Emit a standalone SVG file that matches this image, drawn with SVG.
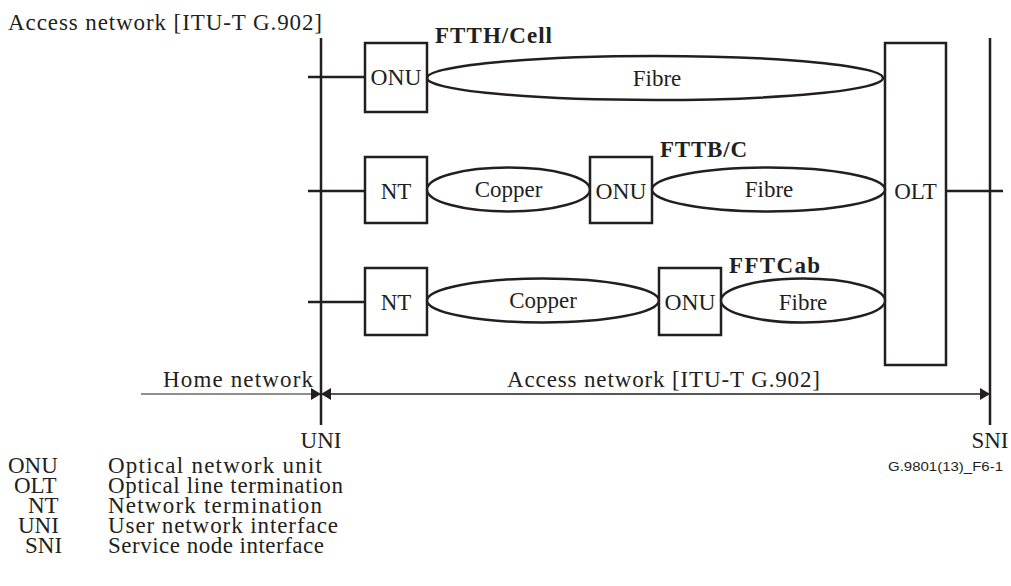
<svg xmlns="http://www.w3.org/2000/svg" width="1011" height="586" viewBox="0 0 1011 586">
<style>
text{font-family:"Liberation Serif","Times New Roman",serif;font-size:23px;fill:#231f20}
.b{font-weight:bold}
.c{text-anchor:middle}
.box{fill:#fff;stroke:#231f20;stroke-width:2.5}
.el{fill:#fff;stroke:#231f20;stroke-width:2.5}
.ln{stroke:#231f20;stroke-width:2.5;fill:none}
.thin{stroke:#231f20;stroke-width:1.2;fill:none}
.sans{font-family:"Liberation Sans",Arial,sans-serif;font-size:13.5px}
</style>
<defs>
<marker id="ah" viewBox="0 0 10 12" refX="10" refY="6" markerWidth="10" markerHeight="12" markerUnits="userSpaceOnUse" orient="auto">
<path d="M0,0 L10,6 L0,12 Z" fill="#231f20"/>
</marker>
</defs>
<text x="8" y="30" textLength="314" lengthAdjust="spacing">Access network [ITU-T G.902]</text>
<g id="connectors">
<line class="ln" x1="321" y1="38" x2="321" y2="425"/>
<line class="ln" x1="990" y1="38" x2="990" y2="425"/>
<line class="ln" x1="308" y1="77" x2="365" y2="77"/>
<line class="ln" x1="308" y1="191" x2="365" y2="191"/>
<line class="ln" x1="308" y1="302" x2="365" y2="302"/>
<line class="ln" x1="946" y1="191" x2="1003" y2="191"/>
<line class="thin" x1="141" y1="394" x2="321" y2="394" marker-end="url(#ah)"/>
<line class="thin" x1="990" y1="394" x2="321" y2="394" marker-end="url(#ah)"/>
<line class="thin" x1="321" y1="394" x2="990" y2="394" marker-end="url(#ah)"/>
</g>
<g id="olt">
<rect class="box" x="885" y="43" width="61" height="322"/>
<text class="c" x="915.5" y="199">OLT</text>
</g>
<g id="fibre1">
<ellipse class="el" cx="655" cy="78" rx="228" ry="22"/>
<text class="c" x="657" y="86">Fibre</text>
</g>
<g id="onu1">
<rect class="box" x="365" y="43" width="62" height="69"/>
<text class="c" x="396" y="85" textLength="51" lengthAdjust="spacingAndGlyphs">ONU</text>
</g>
<text class="b" x="435" y="43" textLength="117" lengthAdjust="spacing">FTTH/Cell</text>
<g id="nt2">
<rect class="box" x="365" y="157" width="62" height="66"/>
<text class="c" x="396" y="199">NT</text>
</g>
<g id="copper2">
<ellipse class="el" cx="508.5" cy="189.5" rx="81.5" ry="22"/>
<text class="c" x="508.5" y="197">Copper</text>
</g>
<g id="onu2">
<rect class="box" x="590" y="157" width="62" height="66"/>
<text class="c" x="621" y="199" textLength="51" lengthAdjust="spacingAndGlyphs">ONU</text>
</g>
<g id="fibre2">
<ellipse class="el" cx="768.5" cy="189.5" rx="116.5" ry="22"/>
<text class="c" x="769" y="197">Fibre</text>
</g>
<text class="b" x="660" y="157" textLength="87" lengthAdjust="spacing">FTTB/C</text>
<g id="nt3">
<rect class="box" x="365" y="268" width="62" height="67"/>
<text class="c" x="396" y="310">NT</text>
</g>
<g id="copper3">
<ellipse class="el" cx="543" cy="300.5" rx="116" ry="22"/>
<text class="c" x="543" y="308">Copper</text>
</g>
<g id="onu3">
<rect class="box" x="659" y="268" width="62" height="67"/>
<text class="c" x="690" y="310" textLength="51" lengthAdjust="spacingAndGlyphs">ONU</text>
</g>
<g id="fibre3">
<ellipse class="el" cx="803" cy="300.5" rx="82" ry="22"/>
<text class="c" x="803" y="310">Fibre</text>
</g>
<text class="b" x="729" y="273" textLength="91" lengthAdjust="spacing">FFTCab</text>
<text x="163" y="387" textLength="150" lengthAdjust="spacing">Home network</text>
<text x="507" y="387" textLength="313" lengthAdjust="spacing">Access network [ITU-T G.902]</text>
<text class="c" x="321" y="448">UNI</text>
<text class="c" x="990" y="448">SNI</text>
<text class="sans" x="888" y="471" textLength="115" lengthAdjust="spacingAndGlyphs">G.9801(13)_F6-1</text>
<g id="legend">
<text x="8" y="473">ONU</text>
<text x="108" y="473" textLength="214" lengthAdjust="spacing">Optical network unit</text>
<text x="14" y="493">OLT</text>
<text x="108" y="493" textLength="235" lengthAdjust="spacing">Optical line termination</text>
<text x="28" y="513">NT</text>
<text x="108" y="513" textLength="214" lengthAdjust="spacing">Network termination</text>
<text x="18" y="533">UNI</text>
<text x="108" y="533" textLength="230" lengthAdjust="spacing">User network interface</text>
<text x="25" y="553">SNI</text>
<text x="108" y="553" textLength="216" lengthAdjust="spacing">Service node interface</text>
</g>
</svg>
